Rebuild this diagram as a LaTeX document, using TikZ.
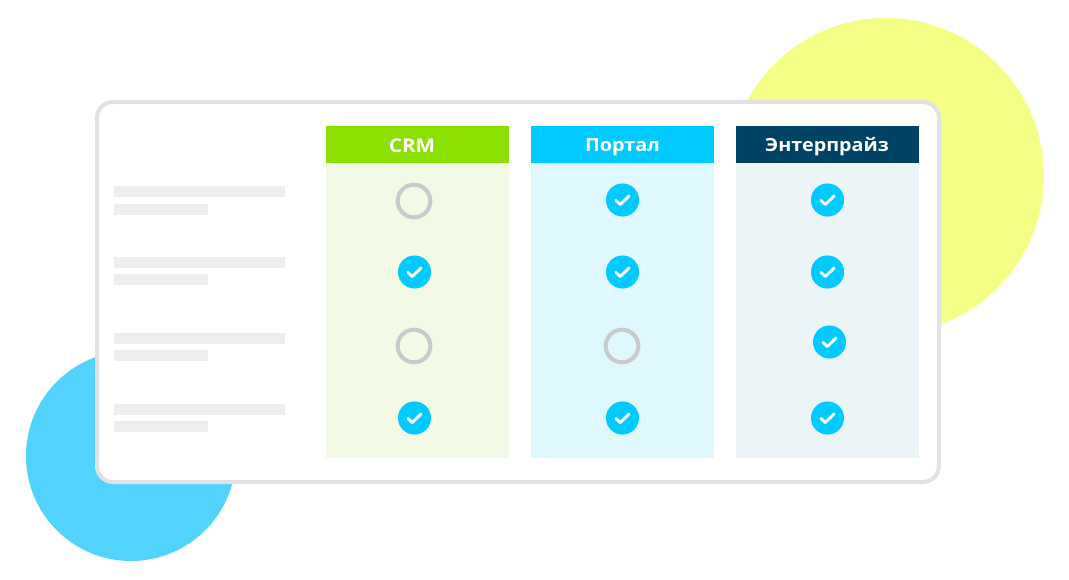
\documentclass[tikz,border=0pt]{standalone}
\usepackage{fontspec}
\setmainfont{Open Sans}
\newfontfamily\headfont[FakeStretch=1.09]{Open Sans}
\definecolor{cyellow}{HTML}{F6FF85}
\definecolor{cblue}{HTML}{52D3FD}
\definecolor{cborder}{HTML}{E2E2E4}
\definecolor{cbar}{HTML}{EEEEEE}
\definecolor{hgreen}{HTML}{8CE000}
\definecolor{hblue}{HTML}{00CAFF}
\definecolor{hnavy}{HTML}{004263}
\definecolor{bgreen}{HTML}{F2F9E4}
\definecolor{bblue}{HTML}{DFF8FE}
\definecolor{bnavy}{HTML}{EBF5F8}
\definecolor{cring}{HTML}{C8CACB}
\tikzset{
  x=0.75pt,y=-0.75pt,
  bar/.style={fill=cbar,draw=none},
  head/.style={font=\headfont\fontsize{13.6pt}{16pt}\selectfont\bfseries,text=white,inner sep=0pt,anchor=base},
  headlarge/.style={font=\headfont\fontsize{14.2pt}{16pt}\selectfont\bfseries,text=white,inner sep=0pt,anchor=base},
  ring/.style={circle,draw=cring,line width=3pt,fill=none,minimum size=24.5pt,inner sep=0pt},
  tick/.style={draw=white,line width=2.2pt,line cap=round,line join=round},
  dot/.style={circle,fill=hblue,draw=none,minimum size=24.8pt,inner sep=0pt},
}
\newcommand{\checkmk}[3]{%
  \node[dot] (#1) at (#2,#3) {};
  \draw[tick] ($(#1)+(-6.5,0.5)$) -- ($(#1)+(-2.2,4.5)$) -- ($(#1)+(6.5,-4)$);
}
\newcommand{\barrow}[2]{%
  \fill[bar] (114,#1) rectangle (285,#1+11);
  \fill[bar] (114,#2) rectangle (208,#2+11);
}
\usetikzlibrary{calc}
\begin{document}
\begin{tikzpicture}
\useasboundingbox (0,0) rectangle (1069,580);
\fill[white] (0,0) rectangle (1069,580);
\fill[cyellow] (886,176) circle [radius=158];
\fill[cblue] (131,456) circle [radius=105];
\draw[cborder,fill=white,line width=3pt,rounded corners=12pt] (97,102) rectangle (939,482);
\barrow{186}{204}
\barrow{257}{274}
\barrow{333}{350}
\barrow{404}{421}
\fill[bgreen] (326,163) rectangle (508.5,458);
\fill[bblue] (531,163) rectangle (714,458);
\fill[bnavy] (736,163) rectangle (919,458);
\fill[hgreen] (326,126) rectangle (508.5,163);
\fill[hblue] (531,126) rectangle (714,163);
\fill[hnavy] (736,126) rectangle (919,163);
\node[headlarge] (crm) at (412,152.5) {CRM};
\node[head] (portal) at (622.5,151.5) {Портал};
\node[head] (enter) at (827,151.5) {Энтерпрайз};
\node[ring] (r1) at (414,201) {};
\node[ring] (r2) at (414,346) {};
\node[ring] (r3) at (622,346) {};
\checkmk{a}{622.5}{200}
\checkmk{b}{827.5}{200}
\checkmk{c}{414.5}{272}
\checkmk{d}{622.5}{272}
\checkmk{e}{827.5}{272}
\checkmk{f}{829.5}{342}
\checkmk{g}{414.5}{418}
\checkmk{h}{622.5}{418}
\checkmk{i}{827.5}{418}
\end{tikzpicture}
\end{document}
